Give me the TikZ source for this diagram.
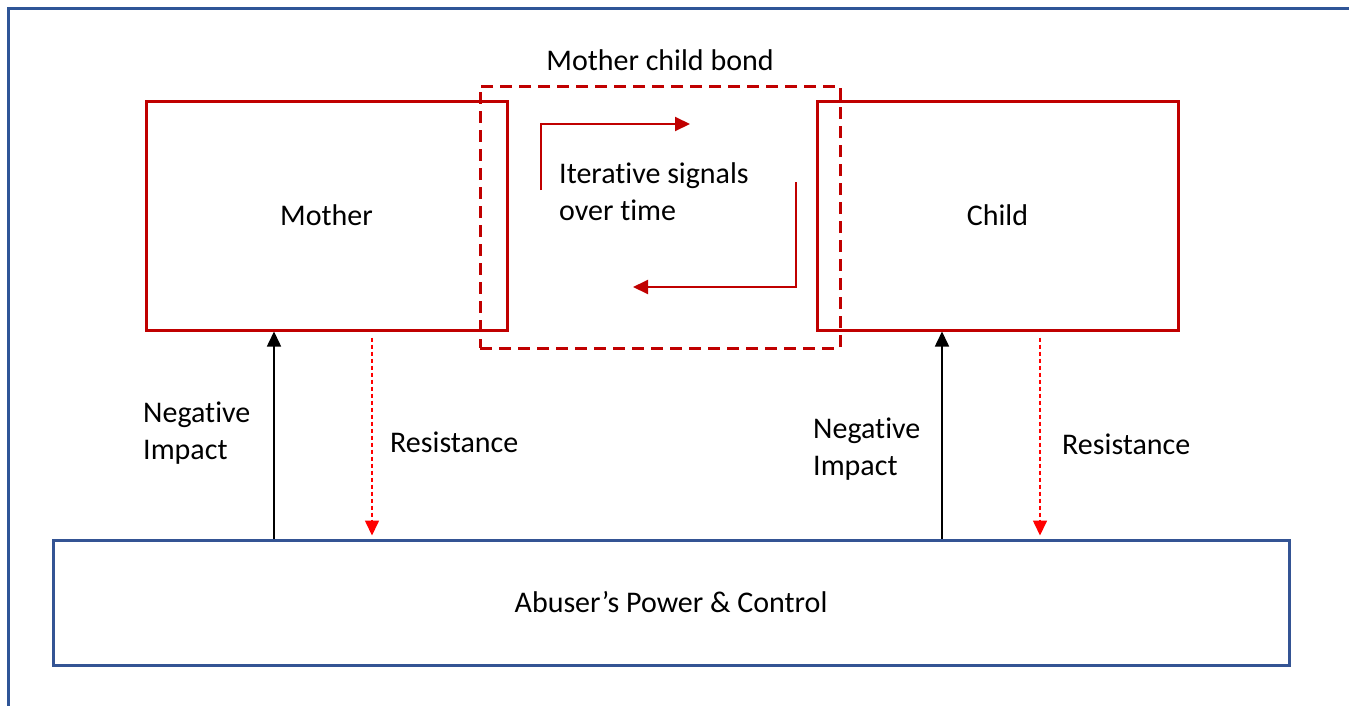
\documentclass[tikz,border=0pt]{standalone}
\usepackage{fontspec}
\setmainfont{Carlito}[Ligatures=NoCommon]
\usetikzlibrary{arrows.meta,calc,positioning}
\definecolor{boxred}{RGB}{192,0,0}
\definecolor{boxblue}{RGB}{52,84,148}
\definecolor{frameblue}{RGB}{47,85,151}
\tikzset{
   person node/.style={rectangle,draw=boxred,line width=3pt,inner sep=0pt},
   bond node/.style={rectangle,draw=boxred,line width=3pt,dash pattern=on 12pt off 7pt,inner sep=0pt},
   power node/.style={rectangle,draw=boxblue,line width=3pt,inner sep=0pt},
   label text/.style={align=left,inner sep=0pt}
}

\begin{document}
\begin{tikzpicture}[x=1pt,y=-1pt,
                    >={Triangle[length=15pt,width=14pt]},
                    font=\fontsize{30}{37}\selectfont,
                    impact/.style={->,black,line width=1.6pt},
                    resist/.style={->,red,line width=1.6pt,dash pattern=on 4pt off 3pt},
                    signal/.style={->,boxred,line width=2pt}]
\useasboundingbox (0,0) rectangle (1349,705);
\draw[frameblue,line width=3pt] (8,710) -- (8,8) -- (1355,8);
%
\node[person node,minimum width=361pt,minimum height=229pt] (mother) at (326.5,215.5) {Mother};
\node[person node,minimum width=361pt,minimum height=229pt] (child)  at (997.5,215.5) {Child};
\node[bond node,minimum width=360pt,minimum height=262pt]   (bond)   at (660,217)     {};
\node[above=14pt of bond,inner sep=0pt] (bondlabel) {Mother child bond};
\node[power node,minimum width=1236pt,minimum height=125pt] (abuser) at (671,602.5) {Abuser’s Power \& Control};
%
\node[label text,anchor=west] (signals) at (559,192) {Iterative signals\\over time};
\coordinate (s1) at (541,190);
\coordinate (s2) at (690,124);
\coordinate (s3) at (796,182);
\coordinate (s4) at (633,287);
\draw[signal] (s1) |- (s2);
\draw[signal] (s3) |- (s4);
%
\coordinate (m1) at (274,0);
\coordinate (m2) at (372,0);
\coordinate (c1) at (942,0);
\coordinate (c2) at (1040,0);
\draw[impact] (abuser.north -| m1) -- (mother.south -| m1);
\draw[resist] ($(mother.south -| m2)+(0,6)$) -- ($(abuser.north -| m2)+(0,-3)$);
\draw[impact] (abuser.north -| c1) -- (child.south -| c1);
\draw[resist] ($(child.south -| c2)+(0,6)$) -- ($(abuser.north -| c2)+(0,-3)$);
%
\node[label text,anchor=west] (mimpact) at (143,433) {Negative\\Impact};
\node[label text,anchor=west] (mresist) at (390,442) {Resistance};
\node[label text,anchor=west] (cimpact) at (813,449) {Negative\\Impact};
\node[label text,anchor=west] (cresist) at (1062,444) {Resistance};
\end{tikzpicture}
\end{document}
